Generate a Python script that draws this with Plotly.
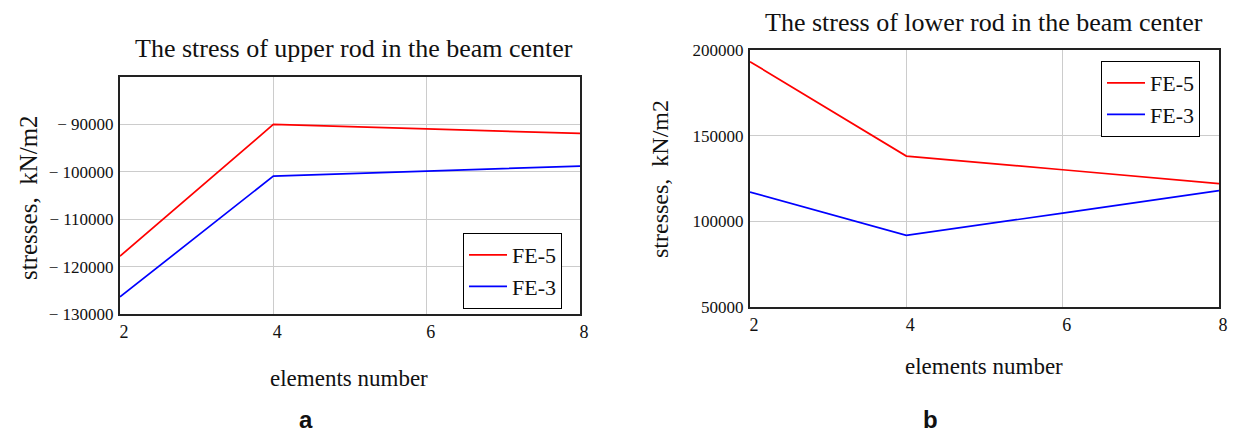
import plotly.graph_objects as go

# ---- data ----
elements = [2, 4, 6, 8]
upper_fe5 = [-117800, -90000, -90950, -91900]
upper_fe3 = [-126400, -100900, -99850, -98800]
lower_fe5 = [193200, 138100, 130100, 122000]
lower_fe3 = [117100, 91800, 104800, 117900]

upper_ticks = [-130000, -120000, -110000, -100000, -90000]
upper_ticktext = ["\u2212 130000", "\u2212 120000", "\u2212 110000", "\u2212 100000", "\u2212 90000"]
lower_ticks = [50000, 100000, 150000, 200000]
lower_ticktext = ["50000", "100000", "150000", "200000"]
x_ticks = [2, 4, 6, 8]

W, H = 1238, 435
SERIF = "Liberation Serif"
SANS = "Liberation Sans"

def px_x(p):
    return p / W

def px_y(p):
    return 1 - p / H

fig = go.Figure()
fig.add_trace(go.Scatter(x=elements, y=upper_fe5, mode="lines", name="FE-5",
                         line=dict(color="#ff0000", width=1.7), xaxis="x", yaxis="y", legend="legend"))
fig.add_trace(go.Scatter(x=elements, y=upper_fe3, mode="lines", name="FE-3",
                         line=dict(color="#0000ff", width=1.7), xaxis="x", yaxis="y", legend="legend"))
fig.add_trace(go.Scatter(x=elements, y=lower_fe5, mode="lines", name="FE-5",
                         line=dict(color="#ff0000", width=1.7), xaxis="x2", yaxis="y2", legend="legend2"))
fig.add_trace(go.Scatter(x=elements, y=lower_fe3, mode="lines", name="FE-3",
                         line=dict(color="#0000ff", width=1.7), xaxis="x2", yaxis="y2", legend="legend2"))

axis_common = dict(showline=True, linecolor="#222222", linewidth=2, mirror=True,
                   showgrid=True, gridcolor="#cccccc", gridwidth=1, zeroline=False,
                   ticks="", automargin=False)
xfont = dict(family=SERIF, size=18, color="#111")
yfont = dict(family=SERIF, size=17, color="#111")

legend_common = dict(xanchor="left", yanchor="top", bordercolor="black", borderwidth=1,
                     bgcolor="white", font=dict(family=SERIF, size=22, color="#111"),
                     tracegroupgap=0, itemwidth=38)

fig.update_layout(
    template="none",
    width=W, height=H,
    margin=dict(l=0, r=0, t=0, b=0, autoexpand=False),
    paper_bgcolor="white", plot_bgcolor="white",
    xaxis=dict(domain=[px_x(120), px_x(580)], range=[2, 8], tickvals=x_ticks,
               anchor="y", tickfont=xfont, ticklabelshift=4, **axis_common),
    yaxis=dict(domain=[px_y(314), px_y(77)], range=[-130000, -80000], tickvals=upper_ticks,
               ticktext=upper_ticktext, anchor="x", tickfont=yfont, ticklabelstandoff=1, **axis_common),
    xaxis2=dict(domain=[px_x(750), px_x(1219)], range=[2, 8], tickvals=x_ticks,
                anchor="y2", tickfont=xfont, ticklabelshift=4, **axis_common),
    yaxis2=dict(domain=[px_y(307), px_y(50)], range=[50000, 200000], tickvals=lower_ticks,
                ticktext=lower_ticktext, anchor="x2", tickfont=yfont, ticklabelstandoff=1, **axis_common),
    legend=dict(x=px_x(463), y=px_y(233), **legend_common),
    legend2=dict(x=px_x(1101), y=px_y(61), **legend_common),
    showlegend=True,
)

ann = []
def add_text(text, x, y, size, family=SERIF, angle=0, bold=False):
    if bold:
        text = "<b>" + text + "</b>"
    ann.append(dict(text=text, x=px_x(x), y=px_y(y), xref="paper", yref="paper",
                    showarrow=False, xanchor="center", yanchor="middle", textangle=angle,
                    font=dict(family=family, size=size, color="#111")))

add_text("The stress of upper rod in the beam center", 354, 48, 26)
add_text("The stress of lower rod in the beam center", 984, 23, 26)
add_text("stresses,  kN/m2", 28, 198, 25, angle=-90)
add_text("stresses,  kN/m2", 660, 179, 24, angle=-90)
add_text("elements number", 349, 378, 23)
add_text("elements number", 984, 366, 23)
add_text("a", 306, 419, 24, family=SANS, bold=True)
add_text("b", 930, 419, 24, family=SANS, bold=True)
fig.update_layout(annotations=ann)

fig.write_html("out.html", config={"displayModeBar": False},
               post_script="document.body.style.margin='0';document.body.style.overflow='hidden';")
